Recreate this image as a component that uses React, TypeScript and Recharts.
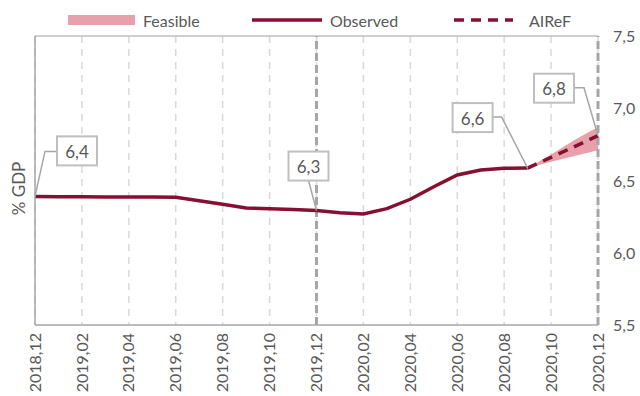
import React from 'react'
import {
  ComposedChart,
  Line,
  Area,
  XAxis,
  YAxis,
  CartesianGrid,
  ReferenceLine,
  LabelList,
} from 'recharts'

const months = [
  '2018,12', '2019,01', '2019,02', '2019,03', '2019,04', '2019,05', '2019,06',
  '2019,07', '2019,08', '2019,09', '2019,10', '2019,11', '2019,12',
  '2020,01', '2020,02', '2020,03', '2020,04', '2020,05', '2020,06',
  '2020,07', '2020,08', '2020,09', '2020,10', '2020,11', '2020,12',
]

const observed = [
  6.39, 6.388, 6.387, 6.386, 6.385, 6.385, 6.384, 6.36, 6.335, 6.31, 6.305, 6.3, 6.292,
  6.277, 6.268, 6.305, 6.37, 6.457, 6.538, 6.573, 6.584, 6.586, null, null, null,
]

const airef = [
  null, null, null, null, null, null, null, null, null, null, null, null, null,
  null, null, null, null, null, null, null, null, 6.586, 6.66, 6.735, 6.81,
]

const feasibleLow = [
  null, null, null, null, null, null, null, null, null, null, null, null, null,
  null, null, null, null, null, null, null, null, 6.586, 6.63, 6.67, 6.71,
]

const feasibleHigh = [
  null, null, null, null, null, null, null, null, null, null, null, null, null,
  null, null, null, null, null, null, null, null, 6.586, 6.68, 6.78, 6.87,
]

const yTicks = [5.5, 6.0, 6.5, 7.0, 7.5]
const xTicks = [0, 2, 4, 6, 8, 10, 12, 14, 16, 18, 20, 22, 24]

const observedCallouts = [0, 12, 21]
const airefCallouts = [24]

const data = months.map((m, i) => ({
  i,
  month: m,
  observed: observed[i],
  airef: airef[i],
  band: feasibleLow[i] == null ? null : [feasibleLow[i], feasibleHigh[i]],
}))

// callout box placement relative to the point (style only)
const calloutStyle: Record<string, { dx: number; dy: number; path: number[][] }> = {
  'o0': { dx: 22, dy: -60, path: [[10, -45], [22, -45]] },
  'o12': { dx: -28, dy: -59, path: [[-8, -30]] },
  'o21': { dx: -75, dy: -65, path: [[-26, -51], [-37, -51]] },
  'a24': { dx: -64, dy: -62, path: [[-14, -48], [-25, -48]] },
}

const RED = '#870F32'
const PINK = '#E8A0AA'
const TEXT = '#595959'
const FONT = 'Lato, "Open Sans", sans-serif'

const fmt = (v: number) => v.toFixed(1).replace('.', ',')

function makeCallout(prefix: string, list: number[]) {
  return (p: any) => {
    const { x, y, index, value } = p
    if (!list.includes(index) || value == null) return null
    const s = calloutStyle[prefix + index]
    const pts = [[x, y], ...s.path.map(([a, b]) => [x + a, y + b])]
    return (
      <g key={prefix + index}>
        <polyline
          points={pts.map((q) => q.join(',')).join(' ')}
          fill="none"
          stroke="#A6A6A6"
          strokeWidth={1.5}
        />
        <rect x={x + s.dx} y={y + s.dy} width={40} height={29} fill="#fff" stroke="#BFBFBF" strokeWidth={2} />
        <text
          x={x + s.dx + 20}
          y={y + s.dy + 15}
          textAnchor="middle"
          dominantBaseline="central"
          fontSize={17}
          fontFamily={FONT}
          fill={TEXT}
        >
          {fmt(value)}
        </text>
      </g>
    )
  }
}

const renderXTick = (p: any) => {
  const { x, y, payload } = p
  return (
    <text
      key={'x' + payload.value}
      x={x}
      y={y}
      transform={`rotate(-90 ${x} ${y})`}
      textAnchor="end"
      dy="0.35em"
      fontSize={16}
      fontFamily={FONT}
      fill={TEXT}
    >
      {months[payload.value]}
    </text>
  )
}

const renderYTick = (p: any) => {
  const { y, payload } = p
  return (
    <text key={'y' + payload.value} x={613} y={y} dy={6} textAnchor="start" fontSize={16} fontFamily={FONT} fill={TEXT}>
      {fmt(payload.value)}
    </text>
  )
}

const renderYLabel = (p: any) => {
  const vb = p.viewBox
  const cx = vb.x + 18
  const cy = vb.y + vb.height / 2 + 8
  return (
    <text
      x={cx}
      y={cy}
      transform={`rotate(-90 ${cx} ${cy})`}
      textAnchor="middle"
      dominantBaseline="central"
      fontSize={17}
      fontFamily={FONT}
      fill={TEXT}
    >
      % GDP
    </text>
  )
}

function Legend() {
  return (
    <svg width={640} height={40} style={{ position: 'absolute', left: 0, top: 0 }}>
      <g fontFamily={FONT} fontSize={16} fill={TEXT}>
        <rect x={68} y={15} width={67} height={10} fill={PINK} />
        <text x={143} y={20} dominantBaseline="central">Feasible</text>
        <line x1={252} x2={322} y1={20} y2={20} stroke={RED} strokeWidth={3.5} />
        <text x={330} y={20} dominantBaseline="central">Observed</text>
        <line x1={454} x2={513} y1={20} y2={20} stroke={RED} strokeWidth={3.5} strokeDasharray="10 7" />
        <text x={529} y={20} dominantBaseline="central">AIReF</text>
      </g>
    </svg>
  )
}

export default function App() {
  return (
    <div style={{ position: 'relative', width: 640, height: 396, background: '#fff' }}>
      <style>{'body{margin:0}'}</style>
      <ComposedChart
        width={640}
        height={396}
        data={data}
        margin={{ top: 36, right: 0, bottom: 0, left: 0 }}
      >
        <CartesianGrid
          horizontal={false}
          stroke="#D9D9D9"
          strokeWidth={1.5}
          strokeDasharray="7 6"
        />
        <XAxis
          dataKey="i"
          type="number"
          domain={[0, 24]}
          ticks={xTicks}
          height={71}
          tickLine={false}
          tickSize={0}
          tickMargin={8}
          axisLine={{ stroke: '#A6A6A6', strokeWidth: 1.5 }}
          tick={renderXTick}
          interval={0}
        />
        <YAxis
          yAxisId={0}
          orientation="left"
          width={35}
          domain={[5.5, 7.5]}
          ticks={yTicks}
          tick={false}
          tickLine={false}
          axisLine={{ stroke: '#A6A6A6', strokeWidth: 1.5 }}
          label={renderYLabel}
        />
        <YAxis
          yAxisId="r"
          orientation="right"
          width={42}
          domain={[5.5, 7.5]}
          ticks={yTicks}
          tickLine={false}
          axisLine={false}
          tick={renderYTick}
          interval={0}
        />
        <ReferenceLine yAxisId="r" y={7.5} stroke="#BFBFBF" strokeWidth={1.5} />
        <ReferenceLine yAxisId="r" x={12} stroke="#A6A6A6" strokeWidth={3} strokeDasharray="8 4" />
        <ReferenceLine yAxisId="r" x={24} stroke="#A6A6A6" strokeWidth={3} strokeDasharray="8 4" />
        <Area
          yAxisId="r"
          dataKey="band"
          type="linear"
          fill={PINK}
          fillOpacity={1}
          stroke="none"
          isAnimationActive={false}
          activeDot={false}
          dot={false}
        />
        <Line
          yAxisId="r"
          dataKey="observed"
          type="linear"
          stroke={RED}
          strokeWidth={3.5}
          dot={false}
          activeDot={false}
          isAnimationActive={false}
        >
          <LabelList dataKey="observed" content={makeCallout('o', observedCallouts)} />
        </Line>
        <Line
          yAxisId="r"
          dataKey="airef"
          type="linear"
          stroke={RED}
          strokeWidth={3.5}
          strokeDasharray="10 7"
          dot={false}
          activeDot={false}
          isAnimationActive={false}
        >
          <LabelList dataKey="airef" content={makeCallout('a', airefCallouts)} />
        </Line>
      </ComposedChart>
      <Legend />
    </div>
  )
}
